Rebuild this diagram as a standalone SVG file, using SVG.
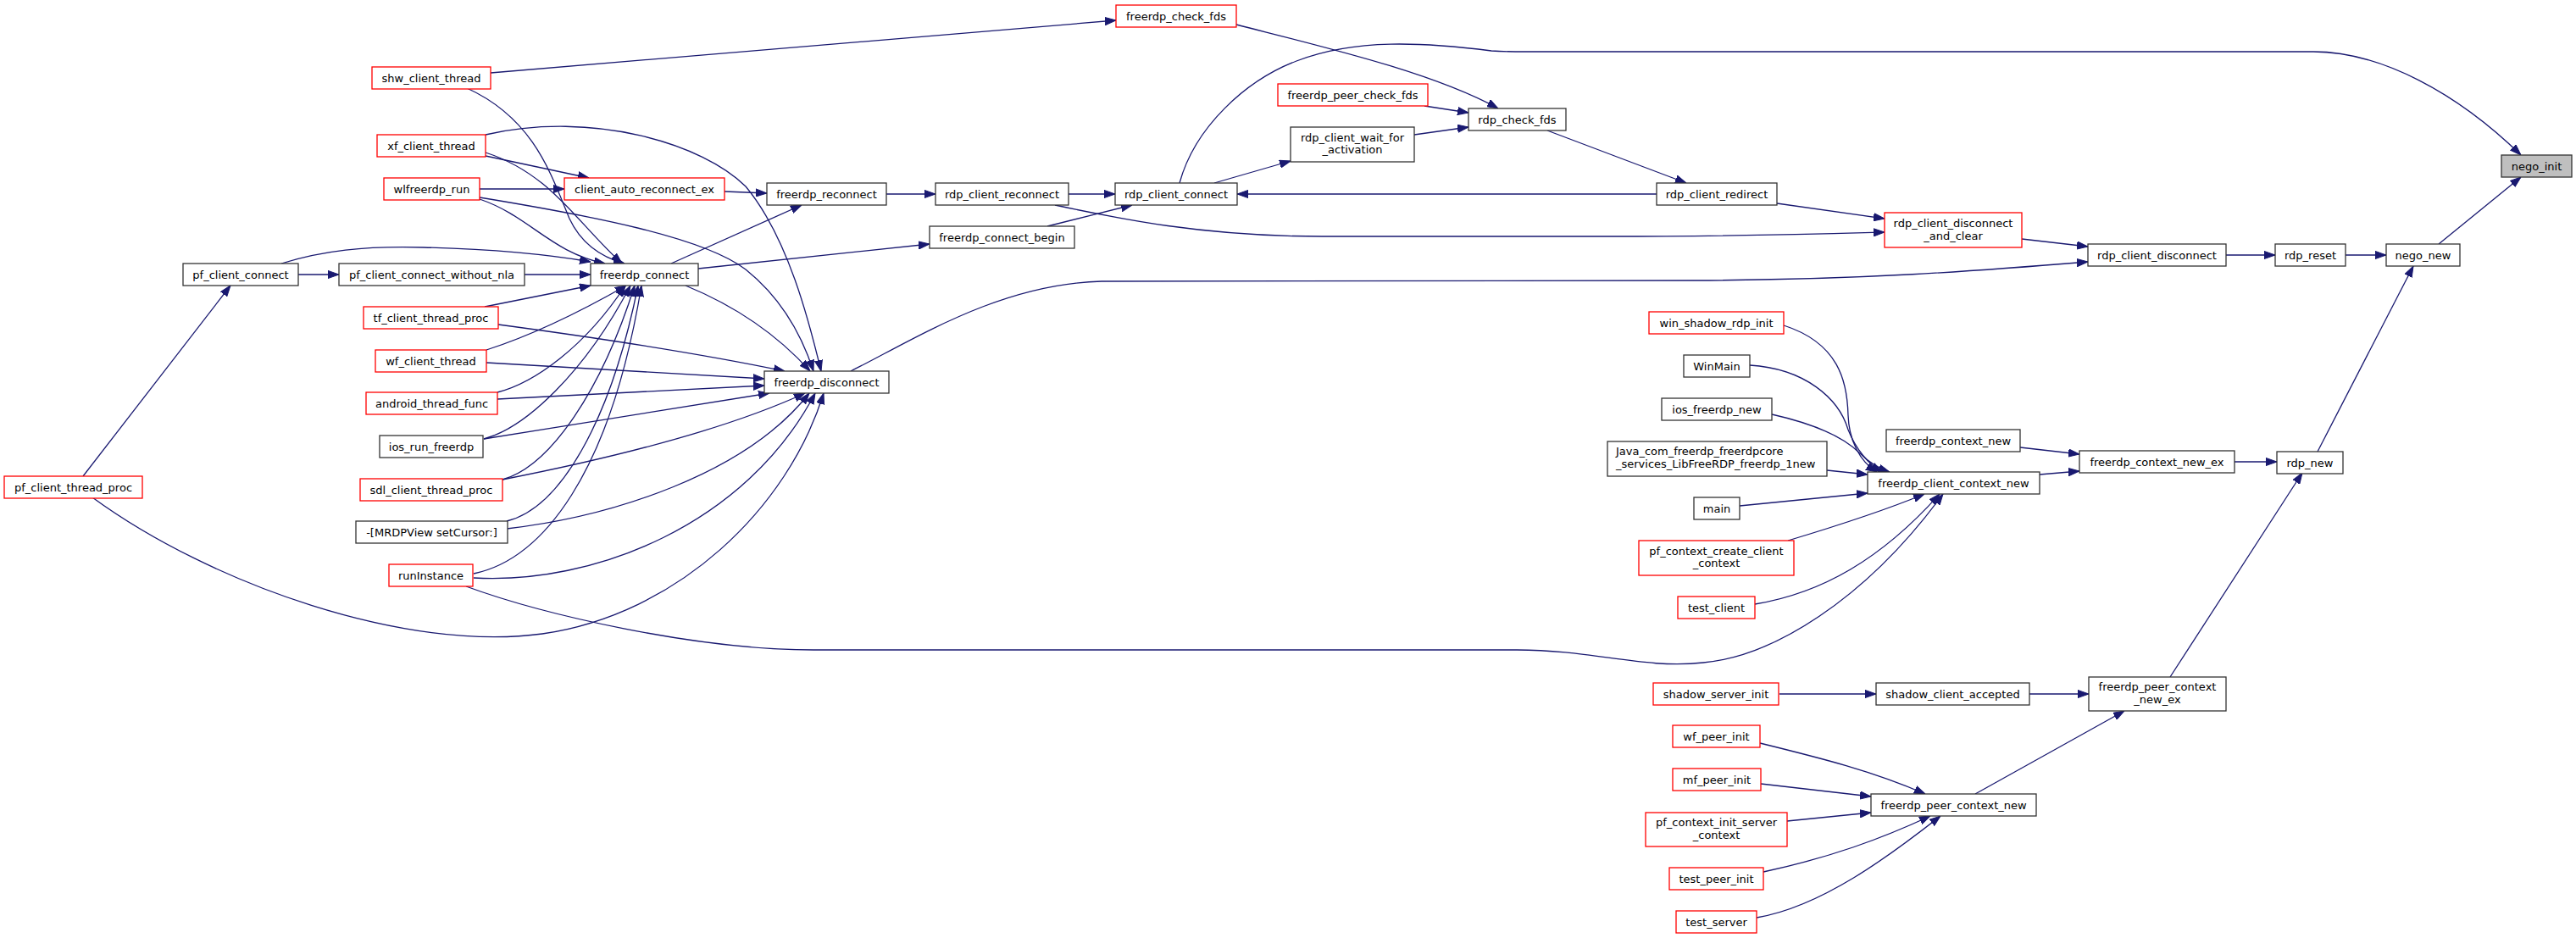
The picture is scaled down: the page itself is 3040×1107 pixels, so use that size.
<svg xmlns="http://www.w3.org/2000/svg" width="3040" height="1107" viewBox="0 0 3040 1107">
<style>
.node rect{fill:#ffffff;stroke:#333333;stroke-width:1.3}
.node.red rect{stroke:#ff0000}
.node.cur rect{fill:#bfbfbf}
.node text{font-family:"DejaVu Sans","Liberation Sans",sans-serif;font-size:13px;fill:#000000;text-anchor:middle}
.edges path{fill:none;stroke:#191970;stroke-width:1.3;marker-end:url(#arr)}
</style>
<defs>
<marker id="arr" markerWidth="13" markerHeight="10" refX="13" refY="5" orient="auto" markerUnits="userSpaceOnUse">
<path d="M0,0.4 L13,5 L0,9.6 z" fill="#191970" stroke="#191970" stroke-width="1"/>
</marker>
</defs>
<rect x="0" y="0" width="3040" height="1107" fill="#ffffff"/>
<g class="edges">
<path d="M2878,288 L2975,209"/>
<path d="M1392,216 C1410,150 1470,95 1530,72 C1600,45 1680,50 1760,60 C1775,61 1790,61 1800,61 L2730,61 C2810,61 2900,110 2975,183"/>
<path d="M2768,301 L2816,301"/>
<path d="M2627,301 L2685,301"/>
<path d="M2735,533 L2848,314"/>
<path d="M2637,545 L2687,545"/>
<path d="M2561,799 L2717,558"/>
<path d="M2386,282 L2464,291"/>
<path d="M1004,438 C1080,400 1180,335 1300,332 C1400,330 1600,331 2000,331 C2200,330 2330,320 2464,309"/>
<path d="M2097,240 L2224,258"/>
<path d="M1245,242 C1320,258 1420,279 1560,279 L1900,279 C2050,279 2150,276 2224,274"/>
<path d="M1433,216 L1523,190"/>
<path d="M1681,125 L1733,133"/>
<path d="M1669,159 L1733,150"/>
<path d="M1459,29 C1560,55 1690,85 1768,128"/>
<path d="M1826,154 L1990,216"/>
<path d="M1955,229 L1460,229"/>
<path d="M1261,229 L1316,229"/>
<path d="M1046,229 L1104,229"/>
<path d="M855,226 L905,228"/>
<path d="M1236,267 L1336,242"/>
<path d="M792,311 L946,242"/>
<path d="M824,317 L1097,288"/>
<path d="M809,337 C870,362 920,398 956,438"/>
<path d="M579,86 L1317,24"/>
<path d="M551,104 C630,140 650,205 672,258 C688,292 715,305 737,311"/>
<path d="M573,159 C700,130 830,170 880,220 C930,280 955,380 969,438"/>
<path d="M573,184 L695,210"/>
<path d="M573,180 C650,205 680,262 734,311"/>
<path d="M566,223 L666,223"/>
<path d="M566,235 C625,255 650,298 714,311"/>
<path d="M566,233 C700,255 830,280 880,318 C920,350 945,392 960,438"/>
<path d="M332,311 C380,296 430,290 500,292 C580,294 650,301 697,309"/>
<path d="M352,324 L400,324"/>
<path d="M619,324 L697,324"/>
<path d="M98,562 L272,337"/>
<path d="M109,587 C250,690 480,770 640,748 C800,725 930,600 972,464"/>
<path d="M572,362 L697,337"/>
<path d="M588,383 C700,398 830,418 926,438"/>
<path d="M574,413 C630,395 690,365 739,337"/>
<path d="M574,428 L902,447"/>
<path d="M587,463 C630,452 690,410 738,337"/>
<path d="M587,471 L902,455"/>
<path d="M571,518 C620,505 690,440 744,337"/>
<path d="M571,518 L908,464"/>
<path d="M593,566 C650,550 710,460 749,337"/>
<path d="M593,566 C700,545 850,510 950,464"/>
<path d="M598,615 C660,600 720,500 753,337"/>
<path d="M598,624 C720,610 880,560 955,464"/>
<path d="M559,677 C640,660 720,560 757,337"/>
<path d="M559,682 C700,690 880,620 962,464"/>
<path d="M550,692 C640,725 820,767 960,767 L1790,767 C1880,767 1940,790 2010,782 C2090,775 2200,710 2293,583"/>
<path d="M2407,560 L2454,556"/>
<path d="M2384,528 L2454,536"/>
<path d="M2105,384 C2170,405 2180,450 2181,490 C2182,520 2195,545 2215,557"/>
<path d="M2065,431 C2130,435 2170,470 2181,507 C2190,530 2205,548 2221,557"/>
<path d="M2091,489 C2140,500 2175,515 2195,535 C2205,545 2215,552 2230,557"/>
<path d="M2156,555 L2204,560"/>
<path d="M2053,597 L2204,582"/>
<path d="M2110,638 C2170,620 2230,600 2271,583"/>
<path d="M2071,713 C2150,700 2220,660 2289,583"/>
<path d="M2100,819 L2214,819"/>
<path d="M2395,819 L2465,819"/>
<path d="M2331,937 L2507,839"/>
<path d="M2077,877 C2150,895 2210,910 2272,937"/>
<path d="M2078,925 L2208,940"/>
<path d="M2109,969 L2208,959"/>
<path d="M2081,1029 C2160,1012 2220,990 2278,963"/>
<path d="M2073,1083 C2150,1070 2230,1010 2290,963"/>
</g>
<g id="nego_init" class="node cur"><rect x="2952" y="183" width="83" height="26"/><text x="2993.5" y="200.5">nego_init</text></g>
<g id="nego_new" class="node"><rect x="2816" y="288" width="87" height="26"/><text x="2859.5" y="305.5">nego_new</text></g>
<g id="rdp_reset" class="node"><rect x="2685" y="288" width="83" height="26"/><text x="2726.5" y="305.5">rdp_reset</text></g>
<g id="rdp_client_disconnect" class="node"><rect x="2464" y="288" width="163" height="26"/><text x="2545.5" y="305.5">rdp_client_disconnect</text></g>
<g id="rdp_client_disconnect_and_clear" class="node red"><rect x="2224" y="251" width="162" height="41"/><text x="2305" y="268">rdp_client_disconnect</text><text x="2305" y="283">_and_clear</text></g>
<g id="rdp_new" class="node"><rect x="2687" y="533" width="78" height="26"/><text x="2726" y="550.5">rdp_new</text></g>
<g id="freerdp_context_new_ex" class="node"><rect x="2454" y="532" width="183" height="26"/><text x="2545.5" y="549.5">freerdp_context_new_ex</text></g>
<g id="freerdp_context_new" class="node"><rect x="2226" y="507" width="158" height="26"/><text x="2305" y="524.5">freerdp_context_new</text></g>
<g id="freerdp_client_context_new" class="node"><rect x="2204" y="557" width="203" height="26"/><text x="2305.5" y="574.5">freerdp_client_context_new</text></g>
<g id="win_shadow_rdp_init" class="node red"><rect x="1946" y="368" width="159" height="26"/><text x="2025.5" y="385.5">win_shadow_rdp_init</text></g>
<g id="WinMain" class="node"><rect x="1987" y="419" width="78" height="26"/><text x="2026" y="436.5">WinMain</text></g>
<g id="ios_freerdp_new" class="node"><rect x="1961" y="470" width="130" height="26"/><text x="2026" y="487.5">ios_freerdp_new</text></g>
<g id="java_new" class="node"><rect x="1897" y="521" width="259" height="41"/><text x="1907" y="537" style="text-anchor:start">Java_com_freerdp_freerdpcore</text><text x="1907" y="552" style="text-anchor:start">_services_LibFreeRDP_freerdp_1new</text></g>
<g id="main" class="node"><rect x="1999" y="587" width="54" height="26"/><text x="2026" y="604.5">main</text></g>
<g id="pf_context_create_client_context" class="node red"><rect x="1934" y="638" width="183" height="41"/><text x="2025.5" y="655">pf_context_create_client</text><text x="2025.5" y="669">_context</text></g>
<g id="test_client" class="node red"><rect x="1980" y="704" width="91" height="26"/><text x="2025.5" y="721.5">test_client</text></g>
<g id="shadow_server_init" class="node red"><rect x="1951" y="806" width="148" height="26"/><text x="2025" y="823.5">shadow_server_init</text></g>
<g id="shadow_client_accepted" class="node"><rect x="2214" y="806" width="181" height="26"/><text x="2304.5" y="823.5">shadow_client_accepted</text></g>
<g id="freerdp_peer_context_new_ex" class="node"><rect x="2465" y="799" width="162" height="40"/><text x="2546" y="815">freerdp_peer_context</text><text x="2546" y="829.5">_new_ex</text></g>
<g id="wf_peer_init" class="node red"><rect x="1974" y="856" width="103" height="26"/><text x="2025.5" y="873.5">wf_peer_init</text></g>
<g id="mf_peer_init" class="node red"><rect x="1974" y="907" width="104" height="26"/><text x="2026" y="924.5">mf_peer_init</text></g>
<g id="freerdp_peer_context_new" class="node"><rect x="2208" y="937" width="195" height="26"/><text x="2305.5" y="954.5">freerdp_peer_context_new</text></g>
<g id="pf_context_init_server_context" class="node red"><rect x="1942" y="959" width="167" height="40"/><text x="2025.5" y="975">pf_context_init_server</text><text x="2025.5" y="989.5">_context</text></g>
<g id="test_peer_init" class="node red"><rect x="1970" y="1024" width="111" height="26"/><text x="2025.5" y="1041.5">test_peer_init</text></g>
<g id="test_server" class="node red"><rect x="1978" y="1075" width="95" height="26"/><text x="2025.5" y="1092.5">test_server</text></g>
<g id="rdp_client_redirect" class="node"><rect x="1955" y="216" width="142" height="26"/><text x="2026" y="233.5">rdp_client_redirect</text></g>
<g id="rdp_check_fds" class="node"><rect x="1733" y="128" width="115" height="26"/><text x="1790.5" y="145.5">rdp_check_fds</text></g>
<g id="freerdp_peer_check_fds" class="node red"><rect x="1508" y="99" width="177" height="26"/><text x="1596.5" y="116.5">freerdp_peer_check_fds</text></g>
<g id="rdp_client_wait_for_activation" class="node"><rect x="1523" y="150" width="146" height="41"/><text x="1596" y="167">rdp_client_wait_for</text><text x="1596" y="181">_activation</text></g>
<g id="freerdp_check_fds" class="node red"><rect x="1317" y="6" width="142" height="26"/><text x="1388" y="23.5">freerdp_check_fds</text></g>
<g id="rdp_client_connect" class="node"><rect x="1316" y="216" width="144" height="26"/><text x="1388" y="233.5">rdp_client_connect</text></g>
<g id="rdp_client_reconnect" class="node"><rect x="1104" y="216" width="157" height="26"/><text x="1182.5" y="233.5">rdp_client_reconnect</text></g>
<g id="freerdp_reconnect" class="node"><rect x="905" y="216" width="141" height="26"/><text x="975.5" y="233.5">freerdp_reconnect</text></g>
<g id="freerdp_connect_begin" class="node"><rect x="1097" y="267" width="171" height="26"/><text x="1182.5" y="284.5">freerdp_connect_begin</text></g>
<g id="client_auto_reconnect_ex" class="node red"><rect x="666" y="210" width="189" height="26"/><text x="760.5" y="227.5">client_auto_reconnect_ex</text></g>
<g id="freerdp_connect" class="node"><rect x="697" y="311" width="127" height="26"/><text x="760.5" y="328.5">freerdp_connect</text></g>
<g id="freerdp_disconnect" class="node"><rect x="902" y="438" width="147" height="26"/><text x="975.5" y="455.5">freerdp_disconnect</text></g>
<g id="shw_client_thread" class="node red"><rect x="439" y="79" width="140" height="26"/><text x="509" y="96.5">shw_client_thread</text></g>
<g id="xf_client_thread" class="node red"><rect x="445" y="159" width="128" height="26"/><text x="509" y="176.5">xf_client_thread</text></g>
<g id="wlfreerdp_run" class="node red"><rect x="453" y="210" width="113" height="26"/><text x="509.5" y="227.5">wlfreerdp_run</text></g>
<g id="pf_client_connect" class="node"><rect x="216" y="311" width="136" height="26"/><text x="284" y="328.5">pf_client_connect</text></g>
<g id="pf_client_connect_without_nla" class="node"><rect x="400" y="311" width="219" height="26"/><text x="509.5" y="328.5">pf_client_connect_without_nla</text></g>
<g id="tf_client_thread_proc" class="node red"><rect x="429" y="362" width="159" height="26"/><text x="508.5" y="379.5">tf_client_thread_proc</text></g>
<g id="wf_client_thread" class="node red"><rect x="443" y="413" width="131" height="26"/><text x="508.5" y="430.5">wf_client_thread</text></g>
<g id="android_thread_func" class="node red"><rect x="432" y="463" width="155" height="26"/><text x="509.5" y="480.5">android_thread_func</text></g>
<g id="ios_run_freerdp" class="node"><rect x="448" y="514" width="122" height="26"/><text x="509" y="531.5">ios_run_freerdp</text></g>
<g id="sdl_client_thread_proc" class="node red"><rect x="425" y="565" width="168" height="26"/><text x="509" y="582.5">sdl_client_thread_proc</text></g>
<g id="mrdpview_setcursor" class="node"><rect x="420" y="615" width="179" height="26"/><text x="509.5" y="632.5">-[MRDPView setCursor:]</text></g>
<g id="runInstance" class="node red"><rect x="459" y="666" width="99" height="26"/><text x="508.5" y="683.5">runInstance</text></g>
<g id="pf_client_thread_proc" class="node red"><rect x="5" y="562" width="163" height="26"/><text x="86.5" y="579.5">pf_client_thread_proc</text></g>
</svg>
